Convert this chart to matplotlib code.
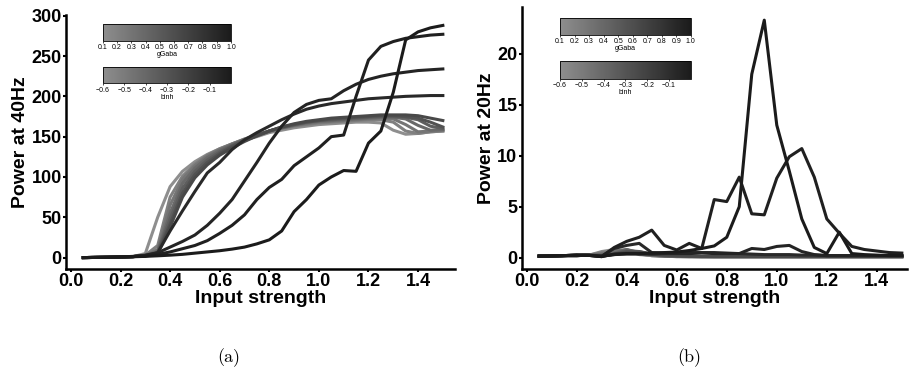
import numpy as np
import matplotlib
matplotlib.use("Agg")
import matplotlib.pyplot as plt
from matplotlib.colors import LinearSegmentedColormap, Normalize
from matplotlib.cm import ScalarMappable

# input strength values shared by both panels
x = [0.05, 0.10, 0.15, 0.20, 0.25, 0.30, 0.35, 0.40, 0.45, 0.50,
     0.55, 0.60, 0.65, 0.70, 0.75, 0.80, 0.85, 0.90, 0.95, 1.00,
     1.05, 1.10, 1.15, 1.20, 1.25, 1.30, 1.35, 1.40, 1.45, 1.50]

# shade of each curve on the colormap (0 = light, 1 = dark)
shades = [0.0, 0.12, 0.22, 0.32, 0.42, 0.52, 0.6, 0.88, 0.92, 0.96, 1.0]

# power at 40Hz
p40 = [
    [0, 0.2, 0.4, 0.7, 1.2, 5, 50, 88, 107, 119, 128, 135, 141, 146, 150,
     155, 158, 161, 163, 165, 166, 167, 168, 168, 167, 158, 153, 154, 156, 157],
    [0, 0.2, 0.4, 0.7, 1.2, 3, 15, 75, 101, 116, 127, 135, 141, 147, 152,
     156, 160, 163, 165, 167, 168, 169, 170, 171, 171, 168, 157, 154, 156, 157],
    [0, 0.2, 0.4, 0.7, 1.2, 2.5, 10, 65, 97, 114, 126, 134, 141, 147, 152,
     157, 161, 164, 166, 168, 169, 170, 171, 172, 173, 172, 165, 156, 157, 158],
    [0, 0.2, 0.4, 0.7, 1.2, 2.5, 8, 55, 92, 111, 124, 133, 140, 146, 152,
     157, 161, 164, 167, 169, 170, 171, 172, 173, 174, 174, 172, 164, 158, 159],
    [0, 0.2, 0.4, 0.7, 1.2, 2.5, 7, 48, 86, 107, 121, 131, 139, 146, 152,
     157, 161, 165, 168, 170, 171, 172, 173, 174, 175, 175, 174, 171, 163, 160],
    [0, 0.2, 0.4, 0.7, 1.2, 2.5, 6, 42, 80, 103, 118, 129, 138, 145, 151,
     157, 162, 165, 168, 170, 172, 173, 174, 175, 176, 176, 175, 173, 168, 162],
    [0, 0.2, 0.4, 0.7, 1.2, 2.5, 5, 38, 75, 99, 115, 127, 136, 144, 151,
     157, 162, 166, 169, 171, 173, 174, 175, 176, 177, 177, 177, 176, 173, 170],
    [0, 0.2, 0.4, 0.7, 1.2, 2, 6, 33, 58, 82, 105, 118, 134, 146, 155,
     163, 171, 178, 184, 188, 191, 193, 195, 197, 198, 199, 200, 200.5, 201, 201],
    [0, 0.2, 0.4, 0.8, 1.5, 3, 6, 13, 20, 28, 40, 55, 72, 95, 118,
     142, 163, 180, 190, 195, 197, 207, 215, 221, 225, 228, 230, 232, 233, 234],
    [0, 0.2, 0.4, 0.8, 1.2, 2, 4, 7, 11, 15, 21, 30, 40, 53, 72,
     87, 97, 114, 125, 136, 150, 152, 200, 245, 262, 268, 272, 274, 276, 277],
    [0, 0.2, 0.4, 0.7, 1.0, 1.5, 2.2, 3, 4, 5.5, 7, 8.5, 10.5, 13, 17,
     22, 33, 57, 72, 90, 100, 108, 107, 142, 157, 205, 270, 280, 285, 288],
]

# power at 20Hz
p20 = [
    [0.15, 0.15, 0.2, 0.2, 0.25, 0.6, 0.8, 0.7, 0.3, 0.2, 0.15, 0.1, 0.1, 0.1, 0.1,
     0.1, 0.1, 0.1, 0.1, 0.1, 0.1, 0.1, 0.1, 0.1, 0.1, 0.1, 0.1, 0.1, 0.1, 0.1],
    [0.15, 0.15, 0.2, 0.2, 0.25, 0.5, 0.7, 0.7, 0.35, 0.2, 0.15, 0.1, 0.1, 0.1, 0.1,
     0.1, 0.1, 0.1, 0.1, 0.1, 0.1, 0.1, 0.1, 0.1, 0.1, 0.1, 0.1, 0.1, 0.1, 0.1],
    [0.15, 0.15, 0.2, 0.2, 0.25, 0.4, 0.6, 0.8, 0.4, 0.2, 0.15, 0.12, 0.1, 0.1, 0.1,
     0.1, 0.1, 0.1, 0.1, 0.1, 0.1, 0.1, 0.1, 0.1, 0.1, 0.1, 0.1, 0.1, 0.1, 0.1],
    [0.15, 0.15, 0.2, 0.2, 0.25, 0.3, 0.5, 0.8, 0.5, 0.25, 0.15, 0.12, 0.1, 0.1, 0.1,
     0.1, 0.1, 0.1, 0.1, 0.1, 0.1, 0.1, 0.1, 0.1, 0.1, 0.1, 0.1, 0.1, 0.1, 0.1],
    [0.15, 0.15, 0.2, 0.2, 0.25, 0.2, 0.4, 0.7, 0.6, 0.3, 0.2, 0.15, 0.12, 0.1, 0.1,
     0.1, 0.1, 0.1, 0.1, 0.1, 0.1, 0.1, 0.1, 0.1, 0.1, 0.1, 0.1, 0.1, 0.1, 0.1],
    [0.15, 0.15, 0.2, 0.2, 0.25, 0.15, 0.35, 0.6, 0.6, 0.35, 0.2, 0.15, 0.12, 0.1, 0.1,
     0.1, 0.1, 0.1, 0.1, 0.1, 0.1, 0.1, 0.1, 0.1, 0.1, 0.1, 0.1, 0.1, 0.1, 0.1],
    [0.15, 0.15, 0.2, 0.2, 0.25, 0.15, 0.3, 0.5, 0.5, 0.35, 0.25, 0.2, 0.15, 0.12, 0.1,
     0.1, 0.1, 0.1, 0.1, 0.1, 0.1, 0.1, 0.1, 0.1, 0.1, 0.1, 0.1, 0.1, 0.1, 0.1],
    [0.15, 0.17, 0.2, 0.25, 0.22, 0.15, 0.9, 1.2, 1.4, 0.5, 0.45, 0.5, 0.5, 0.5, 0.5,
     0.45, 0.4, 0.35, 0.3, 0.3, 0.3, 0.25, 0.25, 0.2, 0.2, 0.2, 0.2, 0.2, 0.2, 0.2],
    [0.15, 0.17, 0.2, 0.25, 0.22, 0.15, 0.3, 0.35, 0.35, 0.35, 0.4, 0.4, 0.4, 0.45, 0.4,
     0.4, 0.4, 0.9, 0.8, 1.1, 1.2, 0.6, 0.3, 0.2, 0.2, 0.2, 0.2, 0.2, 0.2, 0.2],
    [0.15, 0.17, 0.2, 0.25, 0.22, 0.1, 1.0, 1.6, 2.0, 2.7, 1.2, 0.75, 1.4, 0.9, 5.7,
     5.5, 7.9, 4.3, 4.2, 7.8, 9.9, 10.7, 7.9, 3.8, 2.4, 1.1, 0.8, 0.65, 0.5, 0.45],
    [0.15, 0.17, 0.2, 0.25, 0.22, 0.1, 0.35, 0.4, 0.4, 0.45, 0.5, 0.55, 0.7, 0.9, 1.15,
     2.0, 5.0, 18.0, 23.3, 13.0, 8.5, 3.8, 1.0, 0.4, 2.5, 0.4, 0.3, 0.25, 0.2, 0.2],
]

gaba_ticks = [0.1, 0.2, 0.3, 0.4, 0.5, 0.6, 0.7, 0.8, 0.9, 1.0]
binh_ticks = [-0.6, -0.5, -0.4, -0.3, -0.2, -0.1]

cmap = LinearSegmentedColormap.from_list("greys", ["#8e8e8e", "#1b1b1b"])

plt.rcParams['font.family'] = ['Liberation Sans', 'DejaVu Sans']

fig = plt.figure(figsize=(9.16, 3.83), dpi=100)
ax1 = fig.add_axes([0.072, 0.298, 0.425, 0.663])
ax2 = fig.add_axes([0.5695, 0.298, 0.4205, 0.684])


def style(ax, ylabel):
    for s in ['top', 'right']:
        ax.spines[s].set_visible(False)
    for s in ['left', 'bottom']:
        ax.spines[s].set_linewidth(1.8)
    ax.tick_params(width=1.5, length=2, labelsize=13, pad=1)
    for lab in ax.get_xticklabels() + ax.get_yticklabels():
        lab.set_fontweight('bold')
    ax.set_xlabel('Input strength', fontsize=14, fontweight='bold', labelpad=0)
    ax.set_ylabel(ylabel, fontsize=14, fontweight='bold', labelpad=2)


for vals, sh in zip(p40, shades):
    ax1.plot(x, vals, color=cmap(sh), lw=2.2)
ax1.set_xlim(-0.02, 1.55)
ax1.set_ylim(-14, 301)
ax1.set_xticks([0.0, 0.2, 0.4, 0.6, 0.8, 1.0, 1.2, 1.4])
ax1.set_yticks([0, 50, 100, 150, 200, 250, 300])
style(ax1, 'Power at 40Hz')

for vals, sh in zip(p20, shades):
    ax2.plot(x, vals, color=cmap(sh), lw=2.2)
ax2.set_xlim(-0.02, 1.52)
ax2.set_ylim(-1.1, 24.6)
ax2.set_xticks([0.0, 0.2, 0.4, 0.6, 0.8, 1.0, 1.2, 1.4])
ax2.set_yticks([0, 5, 10, 15, 20])
style(ax2, 'Power at 20Hz')


def add_bar(rect, vmin, vmax, ticks, label):
    cax = fig.add_axes(rect)
    sm = ScalarMappable(norm=Normalize(vmin, vmax), cmap=cmap)
    cb = fig.colorbar(sm, cax=cax, orientation='horizontal', ticks=ticks)
    cb.outline.set_linewidth(0.6)
    cb.ax.tick_params(labelsize=5, length=1.5, width=0.5, pad=1)
    cb.set_label(label, fontsize=5, labelpad=0)


add_bar([0.1124, 0.8937, 0.1397, 0.0436], 0.1, 1.0, gaba_ticks, 'gGaba')
add_bar([0.1124, 0.7825, 0.1397, 0.0436], -0.6, 0.0, binh_ticks, 'binh')
add_bar([0.6114, 0.9086, 0.1427, 0.0436], 0.1, 1.0, gaba_ticks, 'gGaba')
add_bar([0.6114, 0.7937, 0.1427, 0.047], -0.6, 0.0, binh_ticks, 'binh')

fig.text(0.25, 0.065, '(a)', fontsize=13, family=['cmr10', 'DejaVu Serif'], ha='center', va='center')
fig.text(0.753, 0.065, '(b)', fontsize=13, family=['cmr10', 'DejaVu Serif'], ha='center', va='center')

fig.savefig('out.png', dpi=100)
